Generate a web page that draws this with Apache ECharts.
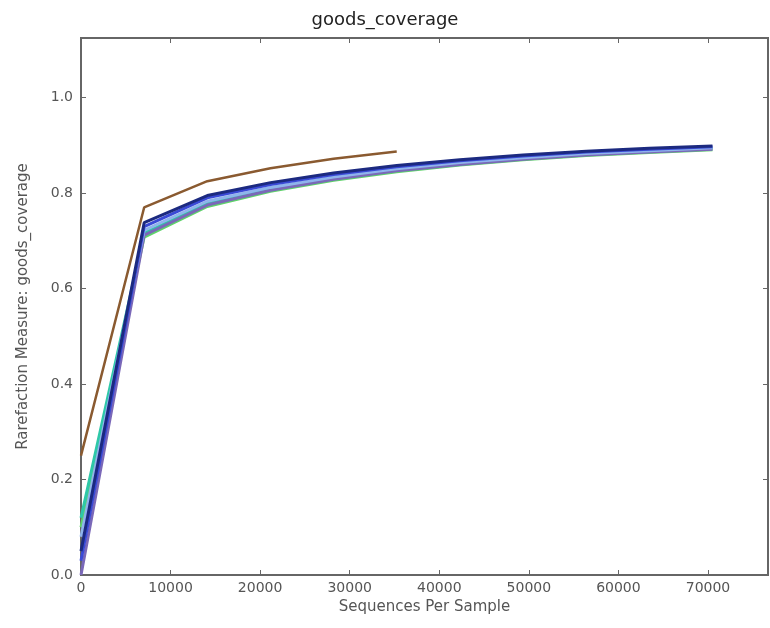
<!DOCTYPE html>
<html>
<head>
<meta charset="utf-8">
<script src="https://cdn.jsdelivr.net/npm/echarts@6/dist/echarts.min.js"></script>
<style>
  html, body { margin: 0; padding: 0; background: #fff; }
  #chart { width: 770px; height: 628px; }
</style>
</head>
<body>
<div id="chart"></div>
<script>
// sequences per sample (rarefaction depths)
const depths = [0, 7050, 14100, 21150, 28200, 35250, 42300, 49350, 56400, 63450, 70500]

// goods coverage per sample
const brownVals = [0.25, 0.770, 0.825, 0.852, 0.872, 0.887]
const navyVals = [0.05, 0.738, 0.795, 0.822, 0.842, 0.858, 0.870, 0.880, 0.888, 0.894, 0.899]
const blueVals = [0.03, 0.730, 0.790, 0.818, 0.839, 0.855, 0.868, 0.878, 0.886, 0.892, 0.897]
const lightBlueVals = [0.08, 0.722, 0.783, 0.812, 0.834, 0.851, 0.864, 0.874, 0.883, 0.889, 0.895]
const tealVals = [0.12, 0.716, 0.778, 0.808, 0.830, 0.848, 0.861, 0.872, 0.881, 0.887, 0.893]
const greenVals = [0.10, 0.708, 0.772, 0.804, 0.827, 0.845, 0.859, 0.870, 0.879, 0.885, 0.891]
const purpleVals = [0.0, 0.712, 0.775, 0.806, 0.829, 0.847, 0.860, 0.871, 0.880, 0.886, 0.892]

const xTicks = [0, 10000, 20000, 30000, 40000, 50000, 60000, 70000]
const yTicks = [0.0, 0.2, 0.4, 0.6, 0.8, 1.0]

const toPairs = vals => vals.map((v, i) => [depths[i], v])

const chart = echarts.init(document.getElementById('chart'))

const mkLine = (name, color, vals, width) => ({
  name: name,
  type: 'line',
  data: toPairs(vals),
  showSymbol: false,
  symbol: 'none',
  lineStyle: { color: color, width: width },
  itemStyle: { color: color },
  z: 3
})

const tickFont = { color: '#555', fontSize: 14, fontFamily: 'DejaVu Sans' }
const frameLine = { show: true, onZero: false, lineStyle: { color: '#666', width: 2 } }
const innerTick = { show: true, inside: true, length: 5, lineStyle: { color: '#666' } }

chart.setOption({
  backgroundColor: '#fff',
  animation: false,
  title: {
    text: 'goods_coverage',
    left: 'center',
    top: 6,
    textStyle: { color: '#222', fontSize: 18, fontWeight: 'normal', fontFamily: 'DejaVu Sans' }
  },
  grid: { left: 81, right: 2, top: 38, bottom: 53, show: true, borderColor: '#666', borderWidth: 2, backgroundColor: 'transparent' },
  xAxis: [
    {
      type: 'value',
      min: 0,
      max: 76700,
      interval: 10000,
      name: 'Sequences Per Sample',
      nameLocation: 'middle',
      nameGap: 22,
      nameTextStyle: { color: '#555', fontSize: 15, fontFamily: 'DejaVu Sans' },
      axisLine: frameLine,
      axisTick: innerTick,
      axisLabel: {
        ...tickFont,
        margin: 6,
        showMaxLabel: false,
        formatter: v => (xTicks.includes(v) ? String(v) : '')
      },
      splitLine: { show: false }
    },
    {
      type: 'value',
      position: 'top',
      min: 0,
      max: 76700,
      interval: 10000,
      axisLine: frameLine,
      axisTick: innerTick,
      axisLabel: { show: false },
      splitLine: { show: false }
    }
  ],
  yAxis: [
    {
      type: 'value',
      min: 0,
      max: 1.125,
      interval: 0.2,
      name: 'Rarefaction Measure: goods_coverage',
      nameLocation: 'middle',
      nameGap: 50,
      nameTextStyle: { color: '#555', fontSize: 15, fontFamily: 'DejaVu Sans' },
      axisLine: frameLine,
      axisTick: innerTick,
      axisLabel: {
        ...tickFont,
        margin: 8,
        showMaxLabel: false,
        formatter: v => {
          const t = yTicks.find(y => Math.abs(y - v) < 1e-6)
          return t === undefined ? '' : t.toFixed(1)
        }
      },
      splitLine: { show: false }
    },
    {
      type: 'value',
      position: 'right',
      min: 0,
      max: 1.125,
      interval: 0.2,
      axisLine: frameLine,
      axisTick: innerTick,
      axisLabel: { show: false },
      splitLine: { show: false }
    }
  ],
  series: [
    mkLine('s1', '#5fd36a', greenVals, 3),
    mkLine('s2', '#2ec8a8', tealVals, 3),
    mkLine('s3', '#7a68b8', purpleVals, 3),
    mkLine('s4', '#8fb4ec', lightBlueVals, 3),
    mkLine('s5', '#3a4ad6', blueVals, 3),
    mkLine('s6', '#1c2a80', navyVals, 3),
    mkLine('s7', '#8a5a30', brownVals, 2.5)
  ]
})
</script>
</body>
</html>
